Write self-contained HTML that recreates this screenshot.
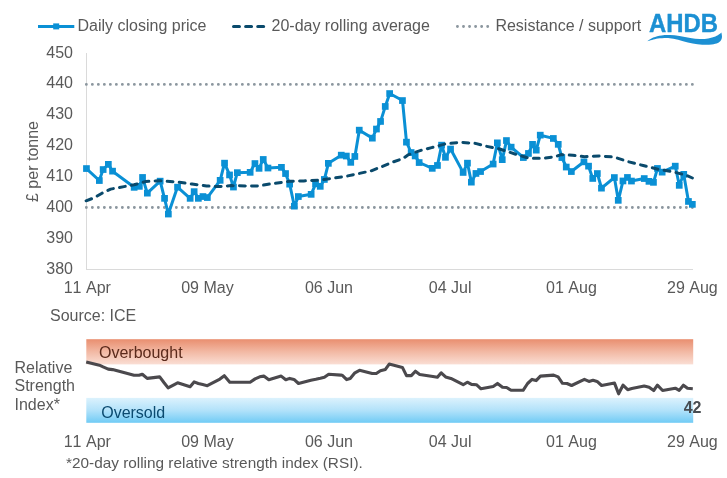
<!DOCTYPE html>
<html lang="en">
<head>
<meta charset="utf-8">
<title>AHDB chart</title>
<style>
html,body{margin:0;padding:0;background:#fff;}
body{width:727px;height:478px;overflow:hidden;}
svg{display:block;will-change:transform;}
svg text{font-family:"Liberation Sans",Arial,sans-serif;font-size:16px;fill:#595959;font-kerning:none;}
</style>
</head>
<body>
<svg width="727" height="478" viewBox="0 0 727 478">
<defs>
<linearGradient id="gOB" x1="0" y1="0" x2="0" y2="1">
<stop offset="0" stop-color="#E98E6F"/><stop offset="0.5" stop-color="#F2B9A4"/><stop offset="1" stop-color="#FADED4"/>
</linearGradient>
<linearGradient id="gOS" x1="0" y1="0" x2="0" y2="1">
<stop offset="0" stop-color="#DCF2FD"/><stop offset="0.5" stop-color="#B2E2FA"/><stop offset="1" stop-color="#70CBF5"/>
</linearGradient>
</defs>
<rect width="727" height="478" fill="#fff"/>

<!-- legend -->
<g>
<line x1="38" y1="26.400" x2="74.300" y2="26.400" stroke="#0A90D5" stroke-width="3"/>
<rect x="53.200" y="23.400" width="6" height="6" fill="#0A90D5"/>
<text x="77.500" y="30.600">Daily closing price</text>
<line x1="233.600" y1="26.500" x2="264" y2="26.500" stroke="#0A4A6C" stroke-width="3.200" stroke-dasharray="5.800 6.300" stroke-linecap="round"/>
<text x="271.500" y="30.600">20-day rolling average</text>
<line x1="457.400" y1="26.500" x2="489" y2="26.500" stroke="#8C979F" stroke-width="2.800" stroke-dasharray="0.100 5.950" stroke-linecap="round"/>
<text x="495.400" y="30.500">Resistance / support</text>
</g>

<!-- logo -->
<g>
<text x="649" y="31.500" textLength="69" lengthAdjust="spacingAndGlyphs" style="font-size:26.700px;font-weight:bold;fill:#1C90D3;stroke:#1C90D3;stroke-width:0.400px;">AHDB</text>
<path d="M647.2 41.2 C648.2 40.6 650.8 38.6 653.2 37.6 C655.6 36.6 658.7 35.9 661.5 35.5 C664.3 35.1 666.9 35.0 669.9 35.1 C672.9 35.2 676.1 35.5 679.5 36.0 C682.9 36.5 686.9 37.4 690.3 37.9 C693.7 38.4 696.8 38.9 699.8 39.0 C702.8 39.1 705.6 38.8 708.2 38.4 C710.8 38.0 713.5 37.1 715.4 36.4 C717.3 35.7 718.6 34.7 719.6 34.0 C720.6 33.3 721.1 32.7 721.4 32.4 C721.5 33.2 722.1 35.6 722.0 37.0 C721.9 38.4 721.5 39.6 720.8 40.6 C720.1 41.6 719.3 42.4 717.8 43.0 C716.3 43.6 714.4 44.2 711.8 44.5 C709.2 44.8 705.4 44.9 702.2 44.7 C699.0 44.5 695.9 44.1 692.7 43.5 C689.5 42.9 686.3 42.0 683.1 41.2 C679.9 40.4 676.3 39.3 673.5 38.8 C670.7 38.2 668.9 37.9 666.3 37.9 C663.7 37.9 660.4 38.1 658.0 38.5 C655.6 38.9 653.8 39.5 652.0 40.0 C650.2 40.5 648.0 41.0 647.2 41.2 Z" fill="#1C90D3"/>
</g>

<!-- main axes -->
<line x1="86.500" y1="53" x2="86.500" y2="270" stroke="#DADADA" stroke-width="1"/>
<line x1="86" y1="269.500" x2="693" y2="269.500" stroke="#DADADA" stroke-width="1"/>
<g><text x="73" y="57.5" text-anchor="end">450</text><text x="73" y="88.4" text-anchor="end">440</text><text x="73" y="119.4" text-anchor="end">430</text><text x="73" y="150.3" text-anchor="end">420</text><text x="73" y="181.2" text-anchor="end">410</text><text x="73" y="212.2" text-anchor="end">400</text><text x="73" y="243.1" text-anchor="end">390</text><text x="73" y="274.0" text-anchor="end">380</text></g>
<text transform="translate(37.500,161.500) rotate(-90)" text-anchor="middle">£ per tonne</text>
<g><text x="87.30" y="293" text-anchor="middle">11 Apr</text><text x="207.40" y="293" text-anchor="middle">09 May</text><text x="328.95" y="293" text-anchor="middle">06 Jun</text><text x="450.20" y="293" text-anchor="middle">04 Jul</text><text x="571.45" y="293" text-anchor="middle">01 Aug</text><text x="692.40" y="293" text-anchor="middle">29 Aug</text></g>

<!-- resistance / support -->
<line x1="86.300" y1="84.400" x2="693" y2="84.400" stroke="#8C979F" stroke-width="2.800" stroke-dasharray="0.100 5.900" stroke-linecap="round"/>
<line x1="86.300" y1="207.500" x2="693" y2="207.500" stroke="#8C979F" stroke-width="2.800" stroke-dasharray="0.100 5.900" stroke-linecap="round"/>

<!-- price -->
<polyline points="86.4,168.6 99.3,180.5 103.1,169.5 108.3,164.3 112.5,171.2 134.2,187.3 139.3,186.3 142.5,177.4 147.3,193.2 160.2,181.2 164.5,198.3 168.3,214.0 177.5,187.1 190.1,198.3 194.2,191.7 198.3,198.3 202.9,196.6 207.3,197.6 220.2,180.3 224.5,163.2 229.6,174.9 233.4,187.0 237.3,172.7 250.2,172.3 254.9,163.5 259.0,168.3 263.3,159.4 268.0,168.0 281.5,167.3 285.6,173.6 289.7,184.2 294.4,206.2 298.4,196.5 311.2,194.3 315.6,183.8 320.3,186.3 324.4,179.4 328.4,163.3 341.3,155.2 346.4,156.0 350.8,162.3 354.9,156.4 359.3,130.2 372.4,138.1 376.5,129.0 380.6,121.4 385.3,106.4 389.7,93.5 402.5,100.5 406.5,142.2 411.1,152.5 415.1,155.9 419.2,162.5 432.3,168.3 437.5,165.4 441.6,145.2 445.5,157.3 450.6,149.0 463.1,172.4 467.5,163.2 471.4,182.2 476.0,173.4 480.6,171.5 493.1,164.0 497.4,142.8 502.3,159.7 506.5,140.6 511.1,147.2 523.4,157.5 528.5,153.4 532.6,144.3 536.2,150.1 540.3,135.2 553.4,138.4 558.2,144.3 561.9,157.5 566.3,167.0 571.4,171.5 584.0,161.8 588.6,166.2 592.7,178.4 597.4,173.5 601.5,188.2 614.4,177.5 618.3,200.3 623.0,180.9 627.5,177.4 631.5,181.0 644.2,178.5 649.0,181.3 653.5,182.3 657.5,168.4 662.1,172.1 675.3,166.2 679.3,185.3 683.7,174.3 688.5,201.4 692.4,204.3" fill="none" stroke="#0A90D5" stroke-width="3" stroke-linejoin="round" stroke-linecap="round"/>
<g fill="#0A90D5"><rect x="83.1" y="165.2" width="6.7" height="6.7"/><rect x="96.0" y="177.2" width="6.7" height="6.7"/><rect x="99.8" y="166.2" width="6.7" height="6.7"/><rect x="105.0" y="161.0" width="6.7" height="6.7"/><rect x="109.2" y="167.8" width="6.7" height="6.7"/><rect x="130.8" y="184.0" width="6.7" height="6.7"/><rect x="136.0" y="183.0" width="6.7" height="6.7"/><rect x="139.2" y="174.1" width="6.7" height="6.7"/><rect x="144.0" y="189.8" width="6.7" height="6.7"/><rect x="156.8" y="177.8" width="6.7" height="6.7"/><rect x="161.2" y="195.0" width="6.7" height="6.7"/><rect x="165.0" y="210.7" width="6.7" height="6.7"/><rect x="174.2" y="183.8" width="6.7" height="6.7"/><rect x="186.8" y="195.0" width="6.7" height="6.7"/><rect x="190.8" y="188.3" width="6.7" height="6.7"/><rect x="195.0" y="195.0" width="6.7" height="6.7"/><rect x="199.6" y="193.2" width="6.7" height="6.7"/><rect x="204.0" y="194.2" width="6.7" height="6.7"/><rect x="216.8" y="177.0" width="6.7" height="6.7"/><rect x="221.2" y="159.8" width="6.7" height="6.7"/><rect x="226.2" y="171.6" width="6.7" height="6.7"/><rect x="230.1" y="183.7" width="6.7" height="6.7"/><rect x="234.0" y="169.3" width="6.7" height="6.7"/><rect x="246.8" y="169.0" width="6.7" height="6.7"/><rect x="251.6" y="160.2" width="6.7" height="6.7"/><rect x="255.7" y="165.0" width="6.7" height="6.7"/><rect x="259.9" y="156.1" width="6.7" height="6.7"/><rect x="264.6" y="164.7" width="6.7" height="6.7"/><rect x="278.1" y="164.0" width="6.7" height="6.7"/><rect x="282.2" y="170.2" width="6.7" height="6.7"/><rect x="286.3" y="180.8" width="6.7" height="6.7"/><rect x="291.0" y="202.8" width="6.7" height="6.7"/><rect x="295.0" y="193.2" width="6.7" height="6.7"/><rect x="307.8" y="191.0" width="6.7" height="6.7"/><rect x="312.2" y="180.5" width="6.7" height="6.7"/><rect x="316.9" y="183.0" width="6.7" height="6.7"/><rect x="321.0" y="176.1" width="6.7" height="6.7"/><rect x="325.0" y="160.0" width="6.7" height="6.7"/><rect x="337.9" y="151.8" width="6.7" height="6.7"/><rect x="343.0" y="152.7" width="6.7" height="6.7"/><rect x="347.4" y="159.0" width="6.7" height="6.7"/><rect x="351.5" y="153.1" width="6.7" height="6.7"/><rect x="355.9" y="126.8" width="6.7" height="6.7"/><rect x="369.0" y="134.8" width="6.7" height="6.7"/><rect x="373.1" y="125.7" width="6.7" height="6.7"/><rect x="377.2" y="118.1" width="6.7" height="6.7"/><rect x="381.9" y="103.1" width="6.7" height="6.7"/><rect x="386.3" y="90.2" width="6.7" height="6.7"/><rect x="399.1" y="97.2" width="6.7" height="6.7"/><rect x="403.1" y="138.8" width="6.7" height="6.7"/><rect x="407.8" y="149.2" width="6.7" height="6.7"/><rect x="411.8" y="152.6" width="6.7" height="6.7"/><rect x="415.8" y="159.2" width="6.7" height="6.7"/><rect x="428.9" y="165.0" width="6.7" height="6.7"/><rect x="434.1" y="162.1" width="6.7" height="6.7"/><rect x="438.2" y="141.8" width="6.7" height="6.7"/><rect x="442.1" y="154.0" width="6.7" height="6.7"/><rect x="447.2" y="145.7" width="6.7" height="6.7"/><rect x="459.8" y="169.1" width="6.7" height="6.7"/><rect x="464.1" y="159.8" width="6.7" height="6.7"/><rect x="468.0" y="178.8" width="6.7" height="6.7"/><rect x="472.6" y="170.1" width="6.7" height="6.7"/><rect x="477.2" y="168.2" width="6.7" height="6.7"/><rect x="489.8" y="160.7" width="6.7" height="6.7"/><rect x="494.0" y="139.5" width="6.7" height="6.7"/><rect x="498.9" y="156.3" width="6.7" height="6.7"/><rect x="503.1" y="137.2" width="6.7" height="6.7"/><rect x="507.8" y="143.8" width="6.7" height="6.7"/><rect x="520.0" y="154.2" width="6.7" height="6.7"/><rect x="525.1" y="150.1" width="6.7" height="6.7"/><rect x="529.2" y="141.0" width="6.7" height="6.7"/><rect x="532.9" y="146.8" width="6.7" height="6.7"/><rect x="536.9" y="131.8" width="6.7" height="6.7"/><rect x="550.0" y="135.1" width="6.7" height="6.7"/><rect x="554.9" y="141.0" width="6.7" height="6.7"/><rect x="558.5" y="154.2" width="6.7" height="6.7"/><rect x="562.9" y="163.7" width="6.7" height="6.7"/><rect x="568.0" y="168.2" width="6.7" height="6.7"/><rect x="580.6" y="158.5" width="6.7" height="6.7"/><rect x="585.2" y="162.8" width="6.7" height="6.7"/><rect x="589.4" y="175.1" width="6.7" height="6.7"/><rect x="594.0" y="170.2" width="6.7" height="6.7"/><rect x="598.1" y="184.8" width="6.7" height="6.7"/><rect x="611.0" y="174.2" width="6.7" height="6.7"/><rect x="614.9" y="197.0" width="6.7" height="6.7"/><rect x="619.6" y="177.6" width="6.7" height="6.7"/><rect x="624.1" y="174.1" width="6.7" height="6.7"/><rect x="628.1" y="177.7" width="6.7" height="6.7"/><rect x="640.9" y="175.2" width="6.7" height="6.7"/><rect x="645.6" y="178.0" width="6.7" height="6.7"/><rect x="650.1" y="179.0" width="6.7" height="6.7"/><rect x="654.1" y="165.1" width="6.7" height="6.7"/><rect x="658.8" y="168.8" width="6.7" height="6.7"/><rect x="671.9" y="162.8" width="6.7" height="6.7"/><rect x="675.9" y="182.0" width="6.7" height="6.7"/><rect x="680.4" y="171.0" width="6.7" height="6.7"/><rect x="685.1" y="198.1" width="6.7" height="6.7"/><rect x="689.0" y="201.0" width="6.7" height="6.7"/></g>
<!-- rolling average -->
<polyline points="86.1,200.8 94.6,197.6 102.0,193.2 110.7,189.1 124.0,186.6 134.0,184.8 145.9,181.5 159.0,180.7 170.0,181.5 178.8,182.2 192.0,184.0 206.6,185.9 218.3,186.6 231.5,185.6 246.1,185.9 255.0,186.1 260.0,185.8 268.1,184.2 274.6,183.3 289.3,181.3 303.9,180.9 318.6,180.1 333.2,178.2 347.8,175.9 359.3,173.4 371.0,170.9 381.2,166.9 391.5,162.5 403.2,158.4 407.6,155.2 412.0,153.3 420.8,150.4 431.6,147.6 446.2,143.7 460.9,142.3 475.5,143.4 485.0,146.0 499.6,149.0 514.3,153.8 528.9,158.2 543.6,158.2 555.3,156.7 561.1,154.6 572.8,155.3 584.6,156.7 599.3,156.0 613.9,157.0 628.6,161.8 643.2,165.5 657.8,169.2 670.9,171.4 685.6,175.0 692.4,178.0" fill="none" stroke="#0A4A6C" stroke-width="3" stroke-dasharray="5.800 6.300" stroke-linecap="round" stroke-linejoin="round"/>

<text x="50" y="320.700">Source: ICE</text>

<!-- RSI panel -->
<rect x="86.300" y="339.200" width="606.900" height="25.200" fill="url(#gOB)"/>
<rect x="86.300" y="397.900" width="606.900" height="24.900" fill="url(#gOS)"/>
<text x="99" y="358" style="fill:#5B2A1B;">Overbought</text>
<text x="101.200" y="417.700" style="fill:#0B4A6F;">Oversold</text>
<polyline points="86.2,361.9 99.4,365.2 103.1,366.9 108.2,369.1 112.6,369.6 134.0,375.3 139.0,375.3 142.3,374.2 147.2,378.4 159.7,376.9 164.1,382.8 168.1,387.9 177.6,382.8 190.1,386.8 194.1,381.9 198.3,383.5 202.7,384.6 207.3,385.7 219.9,379.1 224.3,375.7 229.8,382.3 233.5,382.3 237.3,382.3 250.1,382.3 255.1,378.9 259.7,376.8 263.8,376.1 268.8,379.8 281.2,376.1 285.8,379.8 289.7,378.4 294.0,379.4 298.5,383.5 310.9,380.2 315.8,379.3 320.4,378.3 324.4,377.3 328.7,374.3 340.9,375.1 342.6,375.6 346.7,379.6 350.2,378.6 354.9,372.8 359.5,370.3 372.2,373.5 376.3,373.5 380.4,370.7 385.4,369.4 389.2,364.1 402.4,367.4 406.5,375.6 411.3,375.6 415.4,371.2 419.7,374.5 432.9,376.5 437.4,377.3 441.2,372.8 445.6,376.9 450.9,378.4 463.2,384.7 467.3,382.2 471.5,384.4 476.4,384.7 481.0,388.8 493.2,386.4 497.5,383.4 502.5,387.2 506.6,387.5 511.1,390.3 523.1,390.3 527.6,383.5 532.0,379.4 536.1,380.6 540.4,376.1 553.6,375.1 558.1,376.9 562.5,383.3 567.0,383.5 571.6,385.5 584.4,379.4 588.9,381.4 593.0,380.2 597.1,381.4 601.6,385.5 614.5,383.1 618.6,393.8 623.0,385.2 627.7,389.7 631.8,388.5 644.2,386.0 649.1,387.2 653.7,390.5 657.4,385.2 662.6,390.5 675.3,388.2 679.2,390.4 683.4,385.2 687.5,388.3 692.8,388.8" fill="none" stroke="#4B494D" stroke-width="3.100" stroke-linejoin="round" stroke-linecap="butt"/>
<text x="683.700" y="413.100" style="font-size:16px;font-weight:bold;fill:#474C51;">42</text>
<text x="14.500" y="372.500">Relative</text>
<text x="14.500" y="391">Strength</text>
<text x="14.500" y="410">Index*</text>
<g><text x="87.30" y="447" text-anchor="middle">11 Apr</text><text x="207.40" y="447" text-anchor="middle">09 May</text><text x="328.95" y="447" text-anchor="middle">06 Jun</text><text x="450.20" y="447" text-anchor="middle">04 Jul</text><text x="571.45" y="447" text-anchor="middle">01 Aug</text><text x="692.40" y="447" text-anchor="middle">29 Aug</text></g>
<text x="66" y="468.300" style="font-size:15.350px;">*20-day rolling relative strength index (RSI).</text>
</svg>
</body>
</html>
